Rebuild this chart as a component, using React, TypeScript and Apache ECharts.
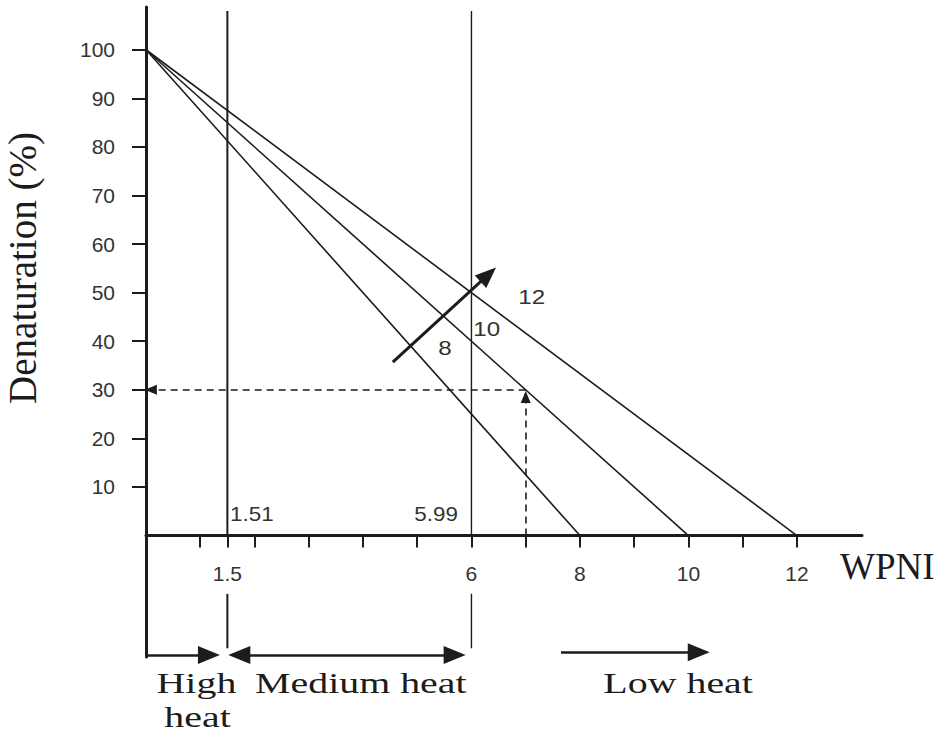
import React, { useEffect, useRef } from 'react';
import * as echarts from 'echarts';

// ---- data ----
const yTickValues = [10, 20, 30, 40, 50, 60, 70, 80, 90, 100];
const xTickValues = [1, 1.5, 2, 3, 4, 5, 6, 7, 8, 9, 10, 11, 12];
const xLabelValues = [1.5, 6, 8, 10, 12];
const startDenaturation = 100;
const zeroCrossings = [8, 10, 12];
const dividerValues = [1.5, 6];
const dividerWidths = [2, 1.4];
const readWPNI = 7;
const readDenaturation = 30;

const lineLabels = [
  { text: '12', x: 7.11, y: 49.0 },
  { text: '10', x: 6.28, y: 42.6 },
  { text: '8', x: 5.51, y: 38.6 },
];
const boundaryLabels = [
  { text: '1.51', x: 1.55, y: 4.4, align: 'left' },
  { text: '5.99', x: 5.75, y: 4.4, align: 'right' },
];
const zoneLabels = [
  { text: 'High', x: 0.93, y: -30.4 },
  { text: 'heat', x: 0.95, y: -37.4 },
  { text: 'Medium heat', x: 3.96, y: -30.4 },
  { text: 'Low heat', x: 9.81, y: -30.4 },
];
const zoneArrows = [
  { from: [0, -24.6], to: [1.16, -24.6], startHead: false },
  { from: [1.72, -24.6], to: [5.69, -24.6], startHead: true },
  { from: [7.65, -24.0], to: [10.19, -24.0], startHead: false },
];
const trendArrow = { from: [4.55, 35.7], to: [6.31, 53.7] };

const SANS = '"Liberation Sans", Arial, Helvetica, sans-serif';
const SERIF = '"Liberation Serif", "Times New Roman", serif';
const INK = '#1c1c1c';

export default function App() {
  const ref = useRef<HTMLDivElement>(null);
  useEffect(() => {
    if (!ref.current) return;
    const chart = echarts.init(ref.current, undefined, { renderer: 'svg' });

    const lineSeries = zeroCrossings.map((z) => ({
      type: 'line',
      name: String(z),
      data: [[0, startDenaturation], [z, 0]],
      symbol: 'none',
      lineStyle: { color: INK, width: 1.6 },
      silent: true,
      z: 3,
    }));

    const dividerSeries: any[] = [];
    dividerValues.forEach((d, i) => {
      dividerSeries.push({
        type: 'line',
        data: [[d, 108], [d, 0]],
        symbol: 'none',
        lineStyle: { color: INK, width: dividerWidths[i] },
        silent: true,
      });
      dividerSeries.push({
        type: 'line',
        data: [[d, -12], [d, -23.2]],
        symbol: 'none',
        lineStyle: { color: INK, width: dividerWidths[i] },
        silent: true,
      });
    });

    const markerSeries = [
      {
        type: 'line',
        data: [],
        silent: true,
        markLine: {
          silent: true,
          animation: false,
          label: { show: false },
          lineStyle: { color: INK, width: 2.5, type: 'solid' },
          symbolSize: [18, 22],
          data: zoneArrows.map((a) => [
            { coord: a.from, symbol: a.startHead ? 'triangle' : 'none' },
            { coord: a.to, symbol: 'triangle' },
          ]),
        },
      },
      {
        type: 'line',
        data: [],
        silent: true,
        markLine: {
          silent: true,
          animation: false,
          label: { show: false },
          lineStyle: { color: INK, width: 3, type: 'solid' },
          symbolSize: [17, 21],
          data: [[
            { coord: trendArrow.from, symbol: 'none' },
            { coord: trendArrow.to, symbol: 'triangle' },
          ]],
        },
      },
      {
        type: 'line',
        data: [],
        silent: true,
        markLine: {
          silent: true,
          animation: false,
          label: { show: false },
          lineStyle: { color: INK, width: 1.6, type: [7, 5] },
          symbolSize: [10, 12],
          data: [
            [
              { coord: [readWPNI, readDenaturation], symbol: 'none' },
              { coord: [0.09, readDenaturation], symbol: 'triangle' },
            ],
            [
              { coord: [readWPNI, 0], symbol: 'none' },
              { coord: [readWPNI, 28.5], symbol: 'triangle' },
            ],
          ],
        },
      },
    ];

    chart.setOption({
      animation: false,
      grid: {
        left: 146,
        right: 72,
        top: 7,
        bottom: 83,
        containLabel: false,
        outerBoundsMode: 'none',
      },
      xAxis: {
        type: 'value',
        min: 0,
        max: 13.2,
        name: 'WPNI',
        nameLocation: 'end',
        nameGap: -22,
        nameTextStyle: {
          fontFamily: SERIF,
          fontSize: 37,
          color: INK,
          align: 'left',
          verticalAlign: 'top',
          padding: [12, 0, 0, 0],
        },
        axisLine: { show: true, onZero: true, lineStyle: { color: INK, width: 3 } },
        axisTick: {
          show: true,
          inside: false,
          length: 12,
          customValues: xTickValues,
          lineStyle: { color: INK, width: 2 },
        },
        axisLabel: {
          show: true,
          customValues: xLabelValues,
          margin: -94,
          fontFamily: SANS,
          fontSize: 21,
          color: '#333',
        },
        splitLine: { show: false },
      },
      yAxis: {
        type: 'value',
        min: -25,
        max: 108.8,
        name: 'Denaturation (%)',
        nameLocation: 'middle',
        nameRotate: 90,
        nameGap: 104,
        nameTextStyle: {
          fontFamily: SERIF,
          fontSize: 39,
          color: INK,
          padding: [0, 0, 0, 128],
        },
        axisLine: { show: true, lineStyle: { color: INK, width: 3 } },
        axisTick: {
          show: true,
          inside: false,
          length: 14,
          customValues: yTickValues,
          lineStyle: { color: INK, width: 2 },
        },
        axisLabel: {
          show: true,
          customValues: yTickValues,
          margin: 31,
          fontFamily: SANS,
          fontSize: 21,
          color: '#333',
        },
        splitLine: { show: false },
      },
      series: [...lineSeries, ...dividerSeries, ...markerSeries],
    });

    const toPx = (x: number, y: number) =>
      chart.convertToPixel({ xAxisIndex: 0, yAxisIndex: 0 }, [x, y]) as number[];

    const textEl = (
      t: string, x: number, y: number, align: string, family: string, size: number, scaleX: number
    ) => {
      const [px, py] = toPx(x, y);
      return {
        type: 'text',
        x: px,
        y: py,
        scaleX,
        silent: true,
        z: 10,
        style: {
          text: t,
          fontFamily: family,
          fontSize: size,
          fill: family === SERIF ? INK : '#333',
          align,
          verticalAlign: 'middle',
          textAlign: align,
          textVerticalAlign: 'middle',
        },
      };
    };

    const graphics = [
      ...lineLabels.map((l) => textEl(l.text, l.x, l.y, 'center', SANS, 21, 1.15)),
      ...boundaryLabels.map((l) => textEl(l.text, l.x, l.y, l.align, SANS, 20, 1.12)),
      ...zoneLabels.map((l) => textEl(l.text, l.x, l.y, 'center', SERIF, 30, 1.33)),
    ];
    chart.setOption({ graphic: graphics });

    return () => chart.dispose();
  }, []);

  return (
    <div
      ref={ref}
      style={{ position: 'fixed', left: 0, top: 0, width: 934, height: 740, background: '#fff' }}
    />
  );
}
